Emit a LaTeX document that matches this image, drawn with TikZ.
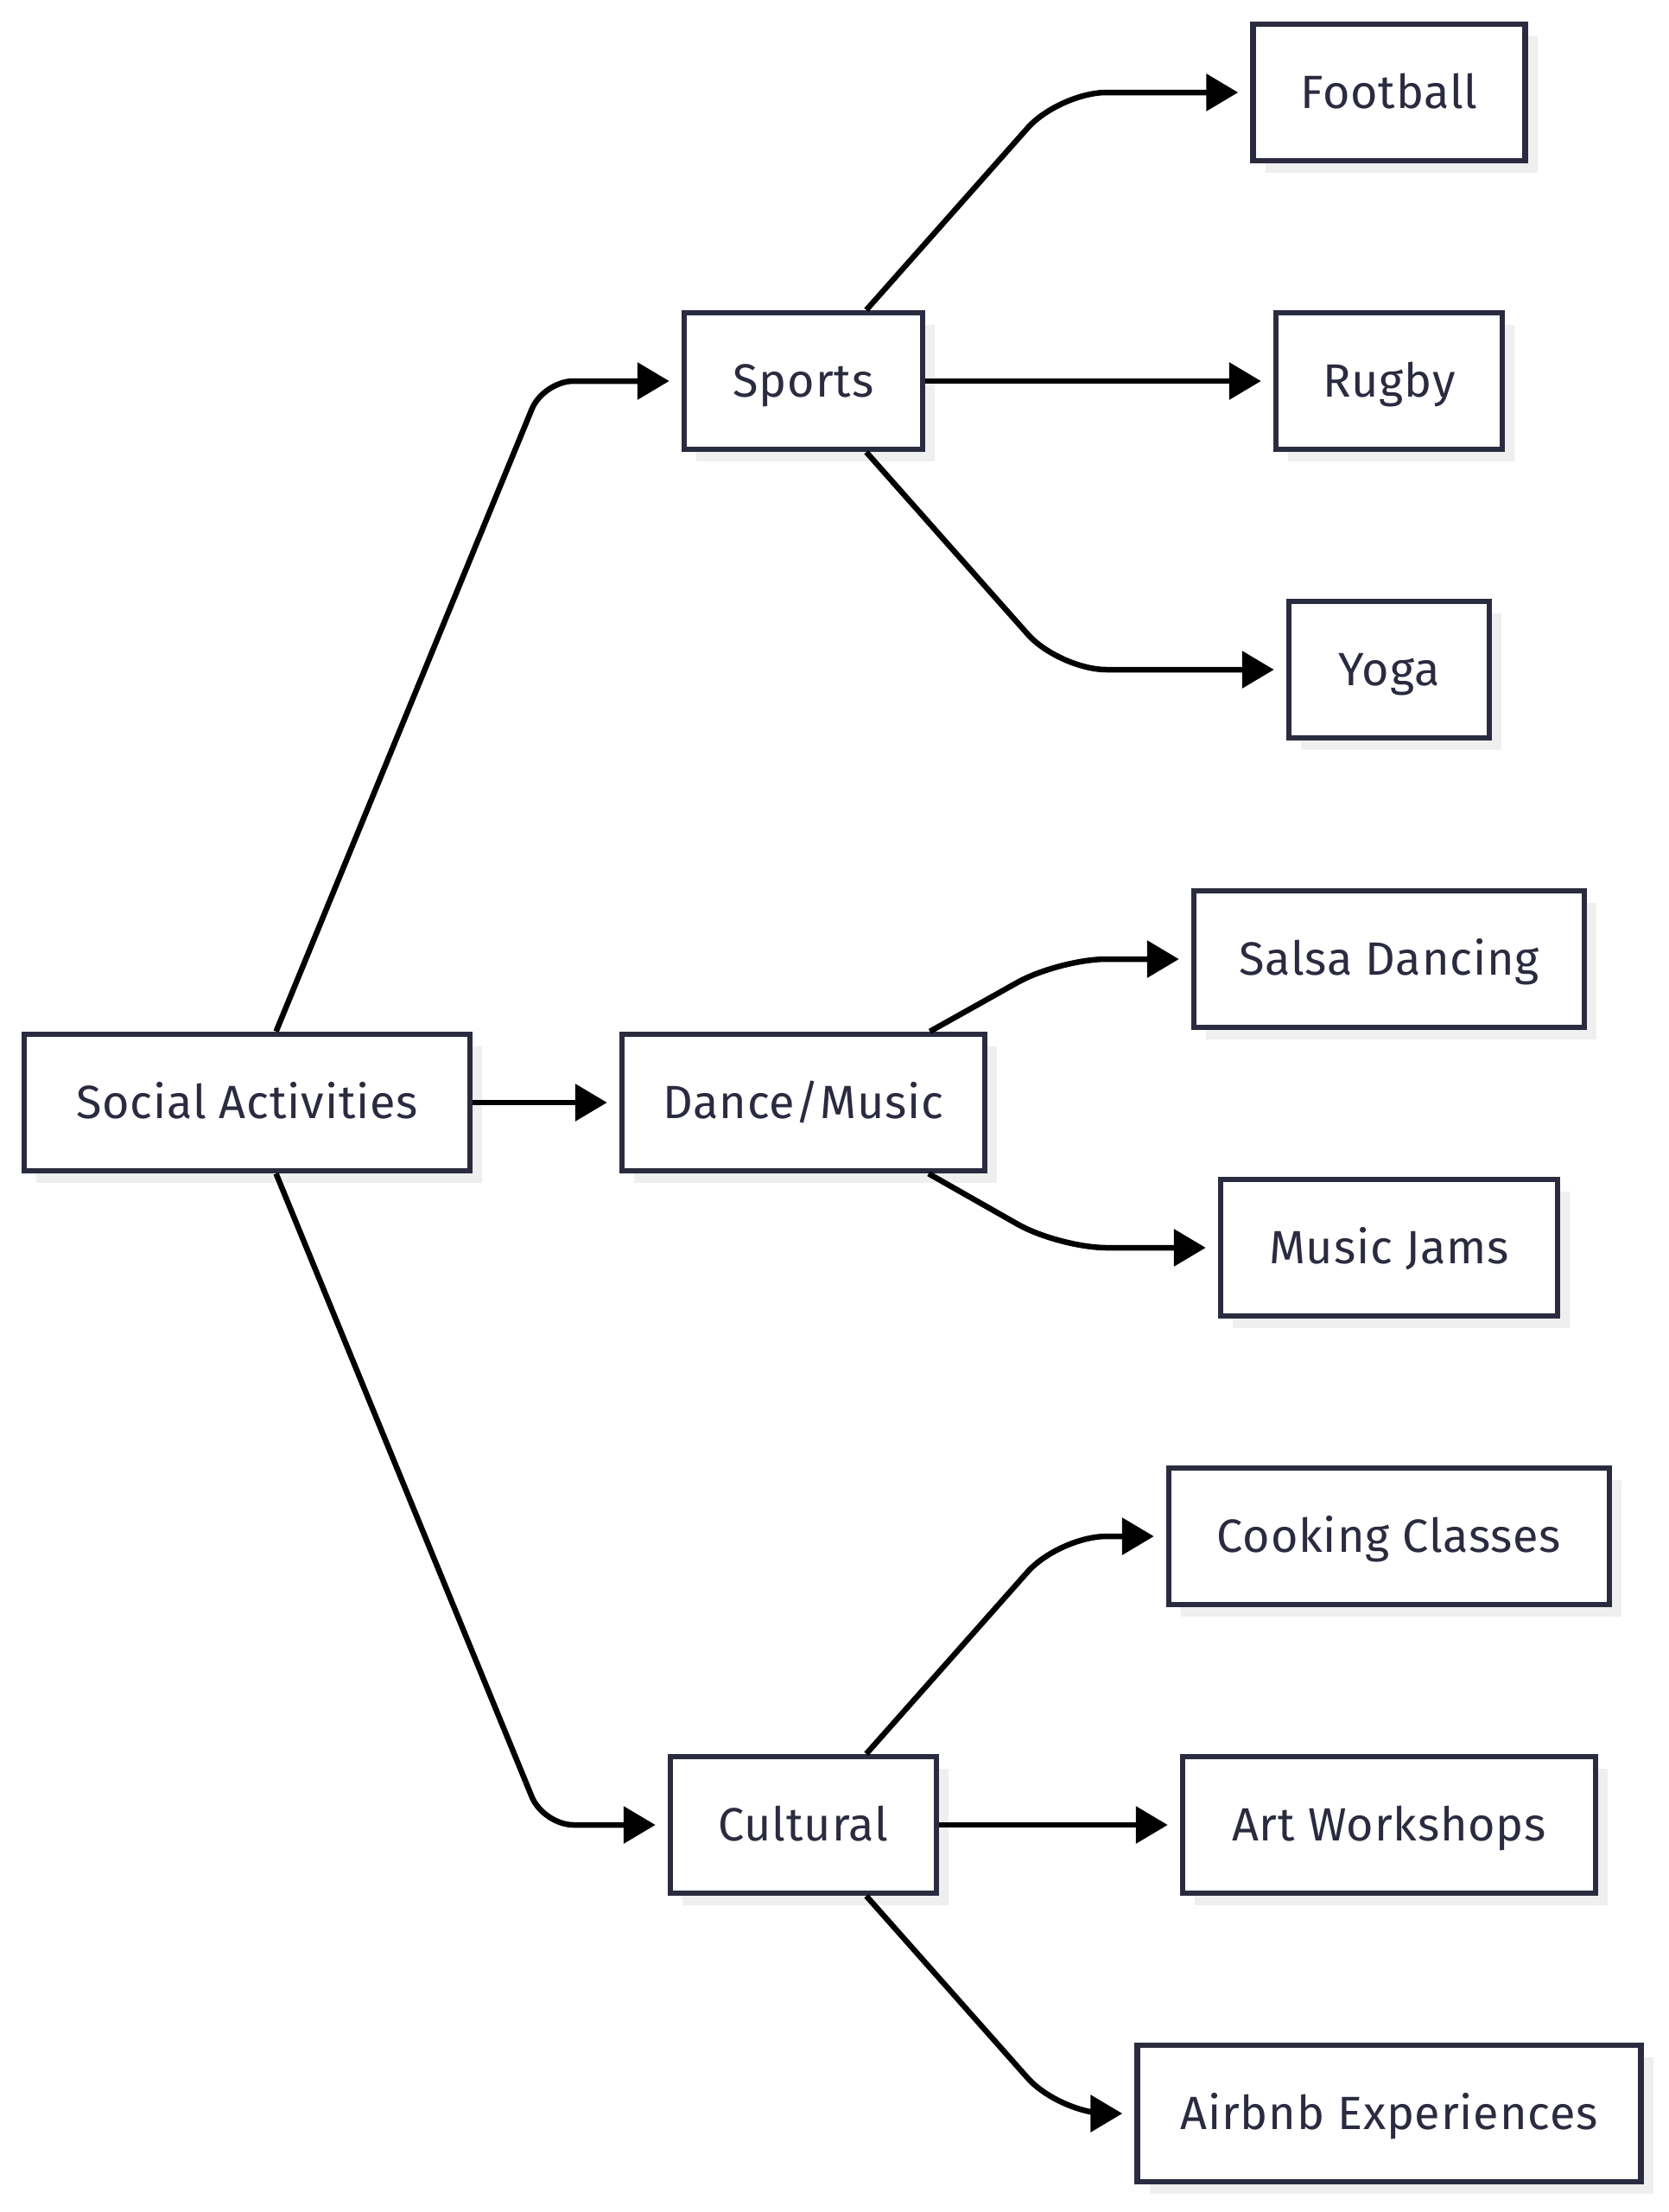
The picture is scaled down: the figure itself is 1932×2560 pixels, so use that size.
\documentclass[tikz,border=0pt]{standalone}
\usepackage{fontspec}
\setmainfont{Fira Sans}[LetterSpace=1.5]
\usetikzlibrary{arrows.meta,shadows}
\definecolor{nodeborder}{HTML}{2B2B40}
\definecolor{nodetext}{HTML}{2B2B40}
\definecolor{shadowgray}{HTML}{EFEFEF}
\begin{document}
\begin{tikzpicture}[x=1pt,y=-1pt,
  box/.style={draw=nodeborder, line width=6.5pt, fill=white, minimum height=158pt,
    inner sep=0pt, text=nodetext, font=\fontsize{54}{62}\selectfont,
    text height=37pt, text depth=0pt,
    drop shadow={shadow xshift=14pt, shadow yshift=-14pt, fill=shadowgray, opacity=1}},
  arr/.style={line width=6.5pt, draw=black, -{Triangle[length=37pt,width=42pt]},
    shorten >=14pt, rounded corners=55pt}
]
\fill[white] (0,0) rectangle (1932,2560);
\node[box, minimum width=516pt] (sa) at (286,1276) {Social Activities};
\node[box, minimum width=276pt] (sp) at (930,441) {Sports};
\node[box, minimum width=420pt] (dm) at (930,1276) {Dance/Music};
\node[box, minimum width=308pt] (cu) at (930,2112) {Cultural};
\node[box, minimum width=315pt] (fo) at (1608,107) {Football};
\node[box, minimum width=262pt] (ru) at (1608,441) {Rugby};
\node[box, minimum width=232pt] (yo) at (1608,775) {Yoga};
\node[box, minimum width=452pt] (sd) at (1608,1110) {Salsa Dancing};
\node[box, minimum width=390pt] (mj) at (1608,1444) {Music Jams};
\node[box, minimum width=510pt] (cc) at (1608,1778) {Cooking Classes};
\node[box, minimum width=478pt] (aw) at (1608,2112) {Art Workshops};
\node[box, minimum width=583pt] (ae) at (1608,2446) {Airbnb Experiences};
\coordinate (k1) at (629,441);
\coordinate (k2) at (629,2112);
\coordinate (k3) at (1226,107);
\coordinate (k4) at (1226,775);
\coordinate (k5) at (1226,1110);
\coordinate (k6) at (1226,1444);
\coordinate (k7) at (1226,1778);
\coordinate (k8) at (1226,2446);
\draw[arr, rounded corners=35pt] (sa) -- (k1) -- (sp);
\draw[arr] (sa) -- (dm);
\draw[arr, rounded corners=35pt] (sa) -- (k2) -- (cu);
\draw[arr] (sp) -- (k3) -- (fo);
\draw[arr] (sp) -- (ru);
\draw[arr] (sp) -- (k4) -- (yo);
\draw[arr] (dm) -- (k5) -- (sd);
\draw[arr] (dm) -- (k6) -- (mj);
\draw[arr] (cu) -- (k7) -- (cc);
\draw[arr] (cu) -- (aw);
\draw[arr] (cu) -- (k8) -- (ae);
\end{tikzpicture}
\end{document}
